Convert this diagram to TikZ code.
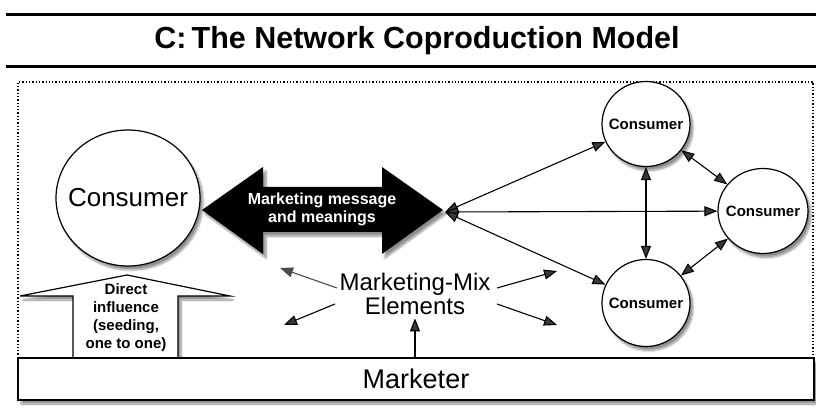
\documentclass[tikz,border=0pt]{standalone}
\usepackage{fontspec}
\setmainfont{Liberation Sans}
\usetikzlibrary{arrows.meta,shapes.geometric,shadows.blur}

\tikzset{
  shade/.style={blur shadow={shadow xshift=3pt,shadow yshift=-4pt,shadow opacity=45,shadow blur steps=8}},
  consumer/.style={ellipse,draw,line width=1.2pt,fill=white,inner sep=-12pt,shade},
  link/.style={<->,line width=1.1pt}
}

\begin{document}
\begin{tikzpicture}[x=1pt,y=-1pt,>={Triangle[length=13pt,width=10pt]}]

\useasboundingbox (0,0) rectangle (816,419);

\draw[line width=3pt] (6,15)--(816,15);
\draw[line width=3pt] (6,67)--(816,67);
\node (title) at (417,41) {\fontsize{30.5}{34}\selectfont\bfseries C:\,The Network Coproduction Model};

\draw[dotted,line width=1.3pt] (18,358)--(18,82)--(813,82)--(813,358);

\filldraw[fill=white,line width=1.2pt,shade] (73,358)--(73,296)--(20,296)--(127,275)--(230,296)--(178,296)--(178,358)--cycle;
\node (dir) [align=center,font=\fontsize{15}{18}\selectfont\bfseries] at (126,318) {Direct\\influence\\(seeding,\\one to one)};

\node (mkt) [draw,fill=white,line width=1.2pt,minimum width=796pt,minimum height=42pt,shade] at (416,379) {\fontsize{27}{30}\selectfont Marketer};

\node (c0) [consumer,minimum width=144pt,minimum height=136pt] at (128,198) {\fontsize{26}{30}\selectfont Consumer};
\node (c1) [consumer,minimum width=88pt,minimum height=85pt] at (646,124) {\fontsize{15}{18}\selectfont\bfseries Consumer};
\node (c2) [consumer,minimum width=90pt,minimum height=85pt] at (763,211) {\fontsize{15}{18}\selectfont\bfseries Consumer};
\node (c3) [consumer,minimum width=88pt,minimum height=87pt] at (646,303) {\fontsize{15}{18}\selectfont\bfseries Consumer};

\fill[shade] (202,210)--(263,167)--(263,187)--(382,187)--(382,167)--(443,210)--(382,254)--(382,232)--(263,232)--(263,254)--cycle;
\node (msg) [align=center,text=white,font=\fontsize{16}{18}\selectfont\bfseries] at (322,209) {Marketing message\\and meanings};

\coordinate (hub) at (445,212);
\draw[link] (hub) -- (c1);
\draw[link] (hub) -- (c2);
\draw[link] (hub) -- (c3);
\draw[link] (c1) -- (c3);
\draw[link] (c1) -- (c2);
\draw[link] (c2) -- (c3);

\node (mix) [align=center,font=\fontsize{24}{24}\selectfont] at (415,294) {Marketing-Mix\\Elements};
\coordinate (ul0) at (337,288);
\coordinate (ul) at (280,268);
\coordinate (ll0) at (335,304);
\coordinate (ll) at (284,325);
\coordinate (ur0) at (497,288);
\coordinate (ur) at (557,271);
\coordinate (lr0) at (497,304);
\coordinate (lr) at (557,325);
\draw[->,line width=1.1pt,black!70] (ul0) -- (ul);
\draw[->,line width=1.1pt] (ll0) -- (ll);
\draw[->,line width=1.1pt] (ur0) -- (ur);
\draw[->,line width=1.1pt] (lr0) -- (lr);
\draw[->,line width=1.1pt] (mkt.north -| mix) -- (mix.south);

\end{tikzpicture}
\end{document}
